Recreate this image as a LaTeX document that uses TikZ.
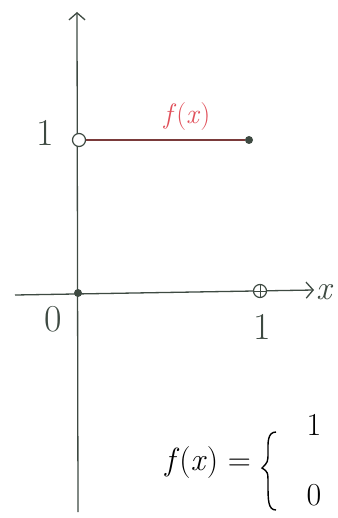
\documentclass[tikz,border=0pt]{standalone}
\usepackage{fontspec}
\usetikzlibrary{arrows.meta}
\definecolor{axiscol}{HTML}{3E4A42}
\definecolor{fcol}{HTML}{E0505A}
\definecolor{segcol}{HTML}{7A3A3A}
\tikzset{
  axis/.style={draw=axiscol, line width=1.3pt, -{Straight Barb[length=7pt,width=16pt]}},
  lbl/.style={text=axiscol, font=\fontsize{38}{40}\selectfont, inner sep=0pt},
  redlbl/.style={text=fcol, font=\fontsize{28}{30}\selectfont, inner sep=0pt},
  blk/.style={text=black, font=\fontsize{32}{34}\selectfont, inner sep=0pt},
  opendot/.style={circle, draw=axiscol, line width=1.2pt, fill=white, minimum size=13pt, inner sep=0pt},
  filldot/.style={circle, fill=axiscol, minimum size=8pt, inner sep=0pt}
}
\begin{document}
\begin{tikzpicture}[x=1pt,y=-1pt]
\useasboundingbox (0,0) rectangle (337,518);
\coordinate (ybot) at (78,512);
\coordinate (ytop) at (77,12);
\coordinate (xl) at (15,295);
\coordinate (xr) at (314,290);
\draw[axis] (ybot) -- (ytop);
\draw[axis] (xl) -- (xr);
\node[lbl, anchor=west, font=\fontsize{34}{36}\itshape] (xlab) at (316,292) {x};
\node[filldot] (o) at (78,293) {};
\node[lbl] (zero) at (53,319) {0};
\node[opendot] (p10) at (260,291) {};
\draw[axiscol, line width=1pt] (p10.north) -- (p10.south) (p10.west) -- (p10.east);
\node[lbl] (one x) at (262,327) {1};
\node[lbl] (one y) at (45,133) {1};
\node[filldot] (q1) at (249,140) {};
\node[opendot] (p01) at (79,140) {};
\draw[segcol, line width=1.5pt] (p01.east) -- (q1.west);
\node[redlbl] (flab) at (187,117) {\textit{f}(\textit{x})};
\node[blk] (fdef) at (208,463) {\textit{f}(\textit{x}) =};
\coordinate (bt) at (276,432);
\coordinate (bm) at (262,468);
\coordinate (bb) at (276,510);
\draw[black, line width=1.4pt] (bt) .. controls (267,432) and (268,444) .. (268,452)
  .. controls (268,462) .. (bm) .. controls (268,472) .. (268,484)
  .. controls (268,500) and (268,510) .. (bb);
\node[blk] (c1) at (314,425) {1};
\node[blk] (c0) at (314,495) {0};
\end{tikzpicture}
\end{document}
